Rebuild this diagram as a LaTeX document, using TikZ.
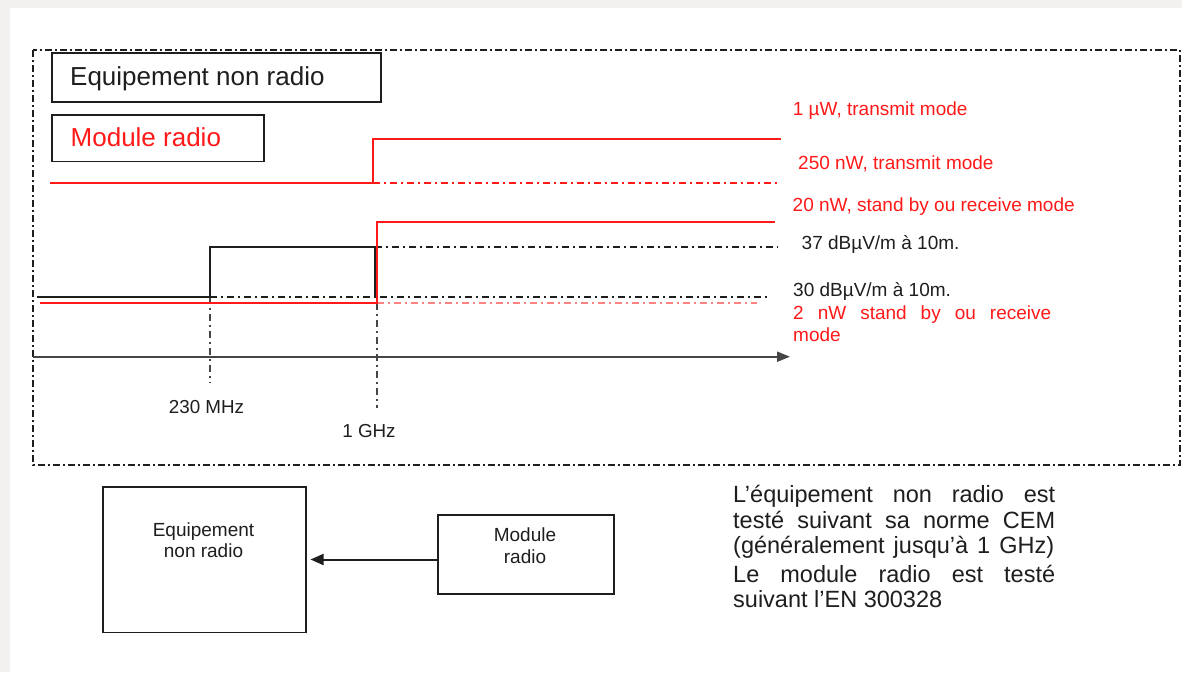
\documentclass[tikz,border=0pt]{standalone}
\usepackage{fontspec}
\setmainfont{Liberation Sans}
\usetikzlibrary{arrows.meta}
\definecolor{myred}{RGB}{255,25,25}
\definecolor{lightred}{RGB}{255,130,130}
\definecolor{ink}{RGB}{30,30,30}
\definecolor{axisgray}{RGB}{70,70,70}
\definecolor{margin}{RGB}{242,241,239}
\begin{document}
\begin{tikzpicture}[x=1pt,y=-1pt,
  dashdot/.style={dash pattern=on 7pt off 4pt on 2pt off 4pt},
  outerframe/.style={draw=ink, line width=1.6pt, dash pattern=on 7pt off 3pt on 2pt off 3pt},
  redline/.style={draw=myred, line width=2pt},
  reddash/.style={draw=myred, line width=2pt, dashdot},
  pinkdash/.style={draw=lightred, line width=2pt, dashdot},
  blkline/.style={draw=ink, line width=2pt},
  blkdash/.style={draw=ink, line width=2pt, dashdot},
  tickline/.style={draw=axisgray, line width=1.6pt, dashdot},
  legendbox/.style={draw=ink, line width=1.8pt, inner sep=0pt, anchor=north west},
  blockbox/.style={draw=ink, line width=1.8pt, inner sep=0pt, anchor=north west},
  bigtxt/.style={font=\fontsize{26}{30}\selectfont, anchor=base west, inner sep=0pt},
  lbl/.style={font=\fontsize{19}{22}\selectfont, anchor=base west, inner sep=0pt},
  axlbl/.style={font=\fontsize{18.8}{21}\selectfont, anchor=base, inner sep=0pt, text=ink},
  blocktxt/.style={font=\fontsize{19}{21}\selectfont, anchor=base, inner sep=0pt, text=ink},
  notetxt/.style={font=\fontsize{23.5}{26}\selectfont, anchor=base west, inner sep=0pt, text=ink}]
% background and margins
\fill[margin] (0,0) rectangle (1182,672);
\fill[white] (10,8) rectangle (1182,672);
\useasboundingbox (0,0) rectangle (1182,672);

% outer dash-dot frame
\draw[outerframe] (33,50) rectangle (1180,465);

% legend boxes
\node[legendbox, minimum width=329pt, minimum height=49pt] (enrbox) at (51,52) {};
\node[bigtxt, text=ink] (enrtxt) at (70,85) {Equipement non radio};
\node[legendbox, minimum width=212pt, minimum height=46.5pt] (mrbox) at (51,114) {};
\node[bigtxt, text=myred] (mrtxt) at (70.5,146.5) {Module radio};

% plot coordinates
\coordinate (r1a) at (50,182.7);
\coordinate (r1b) at (373,182.7);
\coordinate (r1c) at (373,139);
\coordinate (r1d) at (780.7,139);
\coordinate (r1e) at (778,182.7);

\coordinate (r2a) at (40,302.7);
\coordinate (r2b) at (376.7,302.7);
\coordinate (r2c) at (376.7,221.7);
\coordinate (r2d) at (775,221.7);
\coordinate (r2e) at (757,302.7);

\coordinate (k1) at (37,296.7);
\coordinate (k2) at (210,296.7);
\coordinate (k3) at (210,246.7);
\coordinate (k4) at (375,246.7);
\coordinate (k5) at (375,296.7);
\coordinate (k6) at (778,246.7);
\coordinate (k7) at (770,296.7);

\coordinate (t1) at (210,383);
\coordinate (t2) at (376.7,408);

\coordinate (ax0) at (33,356.7);
\coordinate (ax1) at (790,356.7);

% dash-dot reference levels
\draw[reddash] (r1b) -- (r1e);
\draw[pinkdash] (r2b) -- (r2e);
\draw[blkdash] (k4) -- (k6);
\draw[blkdash] (k2) -- (k7);
\draw[tickline] (k2) -- (t1);
\draw[tickline] (r2b) -- (t2);

% limit curves
\draw[blkline] (k1) -- (k2) -- (k3) -- (k4) -- (k5);
\draw[redline] (r1a) -- (r1b) -- (r1c) -- (r1d);
\draw[redline] (r2a) -- (r2b) -- (r2c) -- (r2d);

% frequency axis
\draw[draw=axisgray, line width=2pt, -{Triangle[length=13pt,width=10pt]}] (ax0) -- (ax1);
\node[axlbl] (f230) at (206.5,413) {230 MHz};
\node[axlbl] (f1g) at (369,437) {1 GHz};

% right-hand labels
\node[lbl, text=myred] (l1) at (792.7,115) {1 µW, transmit mode};
\node[lbl, text=myred] (l2) at (798,169) {250 nW, transmit mode};
\node[lbl, text=myred] (l3) at (792.5,211) {20 nW, stand by ou receive mode};
\node[lbl, text=ink] (l4) at (801.5,249) {37 dBµV/m à 10m.};
\node[lbl, text=ink] (l5) at (793,296) {30 dBµV/m à 10m.};
\node[lbl, text=myred] (l6) at (793,319.5) {\makebox[258pt][s]{2 nW stand by ou receive}};
\node[lbl, text=myred] (l7) at (793,341) {mode};

% lower block diagram
\node[blockbox, minimum width=203.5pt, minimum height=145.5pt] (eqbox) at (101.7,486) {};
\node[blocktxt] (eqt1) at (203.5,536) {Equipement};
\node[blocktxt] (eqt2) at (203.5,557) {non radio};
\node[blockbox, minimum width=176pt, minimum height=79pt] (modbox) at (436.7,514.3) {};
\node[blocktxt] (modt1) at (525,541.7) {Module};
\node[blocktxt] (modt2) at (525,563) {radio};
\draw[draw=ink, line width=2pt, -{Triangle[length=13pt,width=11pt]}, shorten >=3.5pt]
  (modbox.west |- 0,559.5) -- (eqbox.east |- 0,559.5);

% explanatory note
\node[notetxt] (n1) at (733,502) {\makebox[322pt][s]{L’équipement non radio est}};
\node[notetxt] (n2) at (733,528) {\makebox[322pt][s]{testé suivant sa norme CEM}};
\node[notetxt] (n3) at (733,553) {\makebox[321pt][s]{(généralement jusqu’à 1 GHz)}};
\node[notetxt] (n4) at (733,582) {\makebox[322pt][s]{Le module radio est testé}};
\node[notetxt] (n5) at (733,607) {suivant l’EN 300328};
\end{tikzpicture}
\end{document}
